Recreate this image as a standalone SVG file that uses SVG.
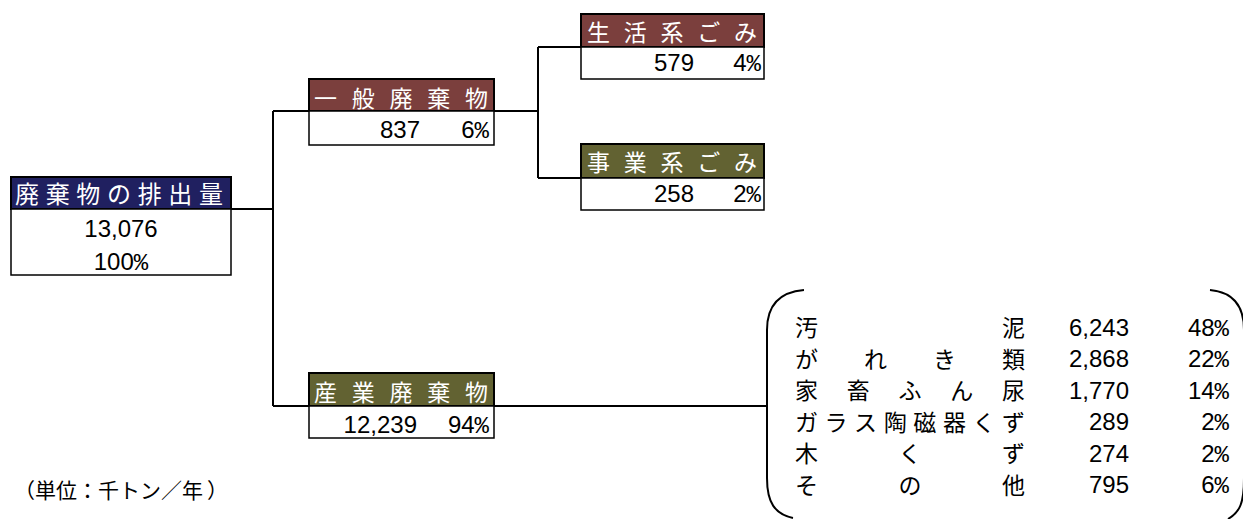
<svg xmlns="http://www.w3.org/2000/svg" width="1243" height="519" viewBox="0 0 1243 519">
<style>
.bg{fill:#fff}
.hdr{stroke:#000;stroke-width:2}
.navy{fill:#202060}
.brown{fill:#7B3F3D}
.olive{fill:#626232}
.val{fill:#fff;stroke:#000;stroke-width:1.5}
.ht{font-family:"Noto Sans CJK JP","Noto Sans CJK SC",sans-serif;font-size:23px;fill:#fff}
.jt{font-family:"Noto Sans CJK JP","Noto Sans CJK SC",sans-serif;font-size:23px;fill:#000}
.num{font-family:"Liberation Sans",Arial,sans-serif;font-size:24px;fill:#000}
.pc{font-family:"Liberation Mono","Courier New",monospace}
.r{text-anchor:end}
.c{text-anchor:middle}
.ln{fill:none;stroke:#000;stroke-width:2}
</style>
<rect class="bg" x="0" y="0" width="1243" height="519"/>

<g id="connectors">
<path class="ln" d="M231 209 H273 M273 111 V406 M273 111 H538 M538 47 V178 M538 47 H581 M538 178 H581 M273 406 H767"/>
<path class="ln" d="M804 290 C780 292 767 305 767 330 L767 478 C767 503 775 514 793 518"/>
<path class="ln" d="M1210 290 C1232 292 1244 305 1244 330 L1244 478 C1244 503 1240 512 1228 519"/>
</g>

<g id="root">
<rect class="hdr navy" x="11" y="177" width="220" height="32"/>
<rect class="val" x="11" y="209" width="220" height="66"/>
<text class="ht" style="font-size:24px" x="15 45.7 76.3 107 137.7 168.3 199" y="203">廃棄物の排出量</text>
<text class="num c" x="121" y="237">13,076</text>
<text class="num c" x="121" y="270">100<tspan class="pc">%</tspan></text>
</g>

<g id="general">
<rect class="hdr brown" x="309" y="79" width="185" height="32"/>
<rect class="val" x="309" y="111" width="185" height="34"/>
<text class="ht" x="314 351.75 389.5 427.25 465" y="106.5">一般廃棄物</text>
<text class="num r" x="420" y="138">837</text>
<text class="num r" x="489" y="138">6<tspan class="pc">%</tspan></text>
</g>

<g id="household">
<rect class="hdr brown" x="581" y="14" width="183" height="33"/>
<rect class="val" x="581" y="47" width="183" height="32"/>
<text class="ht" x="587 623.75 660.5 697.25 734" y="40.5">生活系ごみ</text>
<text class="num r" x="694" y="71">579</text>
<text class="num r" x="761" y="71">4<tspan class="pc">%</tspan></text>
</g>

<g id="business">
<rect class="hdr olive" x="581" y="144" width="183" height="34"/>
<rect class="val" x="581" y="178" width="183" height="32"/>
<text class="ht" x="587 623.75 660.5 697.25 734" y="171">事業系ごみ</text>
<text class="num r" x="694" y="202">258</text>
<text class="num r" x="761" y="202">2<tspan class="pc">%</tspan></text>
</g>

<g id="industrial">
<rect class="hdr olive" x="309" y="373" width="185" height="33"/>
<rect class="val" x="309" y="406" width="185" height="32"/>
<text class="ht" x="314 351.75 389.5 427.25 465" y="401">産業廃棄物</text>
<text class="num r" x="417" y="433">12,239</text>
<text class="num r" x="489" y="433">94<tspan class="pc">%</tspan></text>
</g>

<g id="breakdown">
<text class="jt" x="795 1002" y="336">汚泥</text>
<text class="jt" x="795 864 933 1002" y="367.5">がれき類</text>
<text class="jt" x="795 846.75 898.5 950.25 1002" y="399">家畜ふん尿</text>
<text class="jt" x="795 824.6 854.1 883.7 913.3 942.9 972.4 1002" y="430.5">ガラス陶磁器くず</text>
<text class="jt" x="795 898.5 1002" y="462">木くず</text>
<text class="jt" x="795 898.5 1002" y="493.5">その他</text>
<text class="num r" x="1129" y="335.5">6,243</text>
<text class="num r" x="1129" y="367">2,868</text>
<text class="num r" x="1129" y="398.5">1,770</text>
<text class="num r" x="1129" y="430">289</text>
<text class="num r" x="1129" y="461.5">274</text>
<text class="num r" x="1129" y="493">795</text>
<text class="num r" x="1229" y="335.5">48<tspan class="pc">%</tspan></text>
<text class="num r" x="1229" y="367">22<tspan class="pc">%</tspan></text>
<text class="num r" x="1229" y="398.5">14<tspan class="pc">%</tspan></text>
<text class="num r" x="1229" y="430">2<tspan class="pc">%</tspan></text>
<text class="num r" x="1229" y="461.5">2<tspan class="pc">%</tspan></text>
<text class="num r" x="1229" y="493">6<tspan class="pc">%</tspan></text>
</g>

<g id="unit">
<text class="jt" style="font-size:21px" x="14" y="498">（単位：千トン／年<tspan dx="4">）</tspan></text>
</g>
</svg>
